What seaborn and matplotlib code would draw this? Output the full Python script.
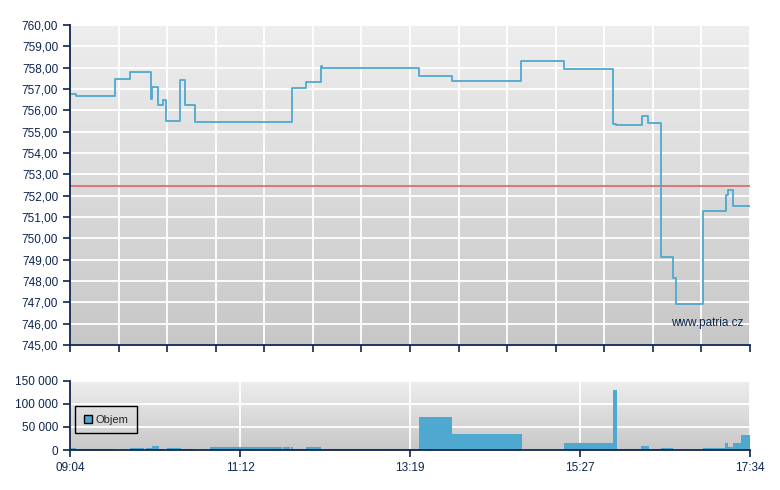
import numpy as np
import pandas as pd
import matplotlib
matplotlib.use("Agg")
import matplotlib.pyplot as plt
from matplotlib.patches import Patch
import seaborn as sns

# --- DATA ---
# price steps: minutes after 09:04 and price from that moment on
price_min = [0, 4.5, 33.5, 45, 60.5, 61.5, 66.2, 70, 72, 82.7, 86.5, 93.5,
             166.7, 176.8, 188, 189, 261.8, 286.5, 338.3, 370.5, 407.5, 409.5,
             428.8, 433.7, 443.5, 452, 454.5, 475, 491.8, 493.3, 497.5, 510]
price_val = [756.78, 756.66, 757.47, 757.80, 756.52, 757.08, 756.24, 756.48, 755.49, 757.41, 756.27, 755.47,
             757.06, 757.31, 758.09, 757.98, 757.63, 757.38, 758.33, 757.94, 755.36, 755.30,
             755.75, 755.39, 749.11, 748.16, 746.92, 751.27, 752.05, 752.27, 751.53, 751.53]
prev_close = 752.46

# volume blocks: start / end (minutes after 09:04) and traded volume
vol_start = [0.5, 4.5, 45, 57, 61.3, 66.75, 72.75, 83.25, 105, 160, 165.75, 167.25, 177, 188.25, 192,
             262, 286.25, 370.5, 407.25, 410.25, 428.25, 434.25, 443.25, 474.75, 491.25, 493.5, 497.25, 503.25]
vol_end = [4.5, 33.75, 55.5, 61.3, 66.75, 70.5, 83.25, 93.75, 159, 165, 167.25, 177, 188.25, 192, 262,
           286.25, 339, 407.25, 410.25, 428.25, 434.25, 443.25, 452.25, 491.25, 493.5, 497.25, 503.25, 510]
vol_val = [5000, 2500, 4000, 4000, 9000, 2500, 4500, 2500, 6500, 6500, 6500, 2500, 6500, 2000, 2000,
           71000, 35000, 16000, 130000, 2000, 9000, 2000, 4500, 4500, 15000, 6000, 15000, 32000]

time_labels = ["09:04", "11:12", "13:19", "15:27", "17:34"]
price_ticks = list(range(745, 761))
vol_ticks = [0, 50000, 100000, 150000]

NAVY = "#0d2550"
BLUE = "#4ea8d0"

sns.set_style("white")
plt.rcParams['font.family'] = ['Liberation Sans', 'DejaVu Sans']

fig = plt.figure(figsize=(7.8, 4.9), dpi=100)
ax = fig.add_axes([70 / 780, 145 / 490, 680 / 780, 320 / 490])
axv = fig.add_axes([70 / 780, 40 / 490, 680 / 780, 69.3 / 490])


def style_axis(a, top_col, bot_col):
    # vertical grey gradient as background
    grad = np.linspace(0, 1, 256).reshape(-1, 1)
    cmap = matplotlib.colors.LinearSegmentedColormap.from_list("g", [bot_col, top_col])
    a.imshow(grad, extent=[0, 1, 0, 1], transform=a.transAxes, aspect="auto",
             cmap=cmap, origin="lower", zorder=0)
    a.set_axisbelow(True)
    a.grid(True, color="white", lw=1.3)
    for s in ["top", "right"]:
        a.spines[s].set_visible(False)
    for s in ["left", "bottom"]:
        a.spines[s].set_color(NAVY)
        a.spines[s].set_linewidth(1.3)
        a.spines[s].set_zorder(5)
    a.tick_params(colors=NAVY, labelcolor=NAVY, labelsize=8.5, length=5, width=1.2,
                  direction="out", left=True, bottom=True)
    a.set_xlabel("")
    a.set_ylabel("")


# --- PRICE ---
df_price = pd.DataFrame({"min": price_min, "price": price_val})
sns.lineplot(data=df_price, x="min", y="price", ax=ax, color=BLUE, lw=1.3,
             drawstyle="steps-post", estimator=None, zorder=3)
ax.axhline(prev_close, color="#e06464", lw=1.2, zorder=2)
style_axis(ax, "#eeeeee", "#c7c7c7")
ax.set_xlim(0, 510)
ax.set_ylim(745, 760)
ax.set_yticks(price_ticks)
ax.set_yticklabels([f"{v},00" for v in price_ticks])
ax.set_xticks(np.linspace(0, 510, 15))
ax.set_xticklabels([])
ax.text(0.99, 0.068, "www.patria.cz", transform=ax.transAxes, ha="right", va="center",
        color=NAVY, fontsize=8.5, zorder=4)

# --- VOLUME ---
edges = sorted(set([0] + vol_start + vol_end + [510]))
mids = [(s + e) / 2 for s, e in zip(vol_start, vol_end)]
sns.histplot(x=mids, weights=vol_val, bins=edges, ax=axv, color=BLUE, alpha=1,
             linewidth=0, element="bars", zorder=3)
style_axis(axv, "#eeeeee", "#c8c8c8")
axv.set_xlim(0, 510)
axv.set_ylim(0, 150000)
axv.set_yticks(vol_ticks)
axv.set_yticklabels([f"{v:,}".replace(",", " ") for v in vol_ticks])
axv.set_xticks(np.linspace(0, 510, 5))
axv.set_xticklabels(time_labels)
leg = axv.legend(handles=[Patch(facecolor=BLUE, edgecolor="black", lw=1, label="Objem")],
                 loc="lower left", bbox_to_anchor=(0.008, 0.245), fancybox=False,
                 framealpha=1, edgecolor="black", fontsize=8, handlelength=0.75,
                 handleheight=0.75, borderpad=0.75, handletextpad=0.35, borderaxespad=0)
leg.get_frame().set_facecolor("none")
leg.get_frame().set_linewidth(1)
leg.set_zorder(6)

fig.savefig("out.png", dpi=100)
